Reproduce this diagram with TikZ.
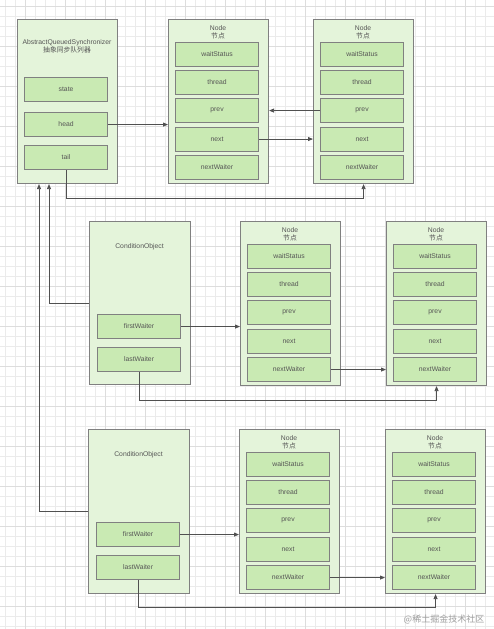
\documentclass[tikz,border=0pt]{standalone}
\usepackage{fontspec}
\setmainfont{Liberation Sans}
\newfontfamily\cjkfont{Noto Sans CJK SC}
\usetikzlibrary{arrows.meta}
\definecolor{outerfill}{HTML}{E4F4DA}
\definecolor{innerfill}{HTML}{C9EAB3}
\definecolor{boxline}{HTML}{808080}
\definecolor{txt}{HTML}{555555}
\definecolor{arrline}{HTML}{505050}
\definecolor{gridminor}{HTML}{EBEBEB}
\definecolor{gridmajor}{HTML}{DDDDDD}
\tikzset{
  outerbox/.style={draw=boxline, line width=1.1pt, fill=outerfill, anchor=north west, inner sep=0pt, minimum width=100pt},
  innerbox/.style={draw=boxline, line width=1.1pt, fill=innerfill, anchor=north west, inner sep=0pt, minimum width=83pt, minimum height=24pt, text=txt, font=\fontsize{6.8}{7.5}\selectfont},
  titletext/.style={text=txt, font=\fontsize{6.8}{8}\selectfont, align=center, inner sep=0pt},
  arr/.style={draw=arrline, line width=0.8pt, -{Triangle[length=5pt,width=4pt]}},
}
\newcommand{\nodecol}[3]{%
  \begin{scope}[shift={(#2,#3)}]
    \node[outerbox, minimum height=164pt] (#1) at (0,0) {};
    \node[titletext] (#1-title) at (50,13.5) {Node\\{\cjkfont 节点}};
    \node[innerbox] (#1-ws) at (7,23) {waitStatus};
    \node[innerbox] (#1-th) at (7,51) {thread};
    \node[innerbox] (#1-pv) at (7,79) {prev};
    \node[innerbox] (#1-nx) at (7,107.5) {next};
    \node[innerbox] (#1-nw) at (7,136) {nextWaiter};
  \end{scope}}
\newcommand{\condcol}[4]{%
  \begin{scope}[shift={(#2,#3)}]
    \node[outerbox, minimum width=101pt, minimum height=#4] (#1) at (0,0) {};
    \node[titletext] (#1-title) at (50.5,26) {ConditionObject};
    \node[innerbox] (#1-fw) at (8,93) {firstWaiter};
    \node[innerbox] (#1-lw) at (8,125.5) {lastWaiter};
  \end{scope}}
\begin{document}
\begin{tikzpicture}[x=1pt,y=-1pt]
  \useasboundingbox (0,0) rectangle (494,629);
  \fill[white] (0,0) rectangle (494,629);
  % grid
  \foreach \gx in {5,15,...,494} \draw[gridminor, line width=0.6pt] (\gx,0) -- (\gx,629);
  \foreach \gy in {6,16,...,629} \draw[gridminor, line width=0.6pt] (0,\gy) -- (494,\gy);
  \foreach \gx in {25,65,...,494} \draw[gridmajor, line width=0.8pt] (\gx,0) -- (\gx,629);
  \foreach \gy in {6,46,...,629} \draw[gridmajor, line width=0.8pt] (0,\gy) -- (494,\gy);

  % AQS
  \node[outerbox, minimum height=164pt] (aqs) at (17,19) {};
  \node[titletext] (aqs-title) at (67,46) {AbstractQueuedSynchronizer\\{\cjkfont 抽象同步队列器}};
  \node[innerbox] (aqs-state) at (24,77) {state};
  \node[innerbox] (aqs-head) at (24,112) {head};
  \node[innerbox] (aqs-tail) at (24,145) {tail};

  \nodecol{n1}{168}{19}
  \nodecol{n2}{313}{19}
  \condcol{c1}{89}{221}{163pt}
  \nodecol{n3}{240}{221}
  \nodecol{n4}{386}{221}
  \condcol{c2}{88}{429}{164pt}
  \nodecol{n5}{239}{429}
  \nodecol{n6}{385}{429}

  % top group connectors
  \draw[arr] (aqs-head.east) -- (aqs-head.east -| n1.west);
  \draw[arr] (n2-pv.west) -- (n2-pv.west -| n1.east);
  \draw[arr] (n1-nx.east) -- (n1-nx.east -| n2.west);
  \draw[arr] (aqs-tail.south) -- ++(0,28) -| (n2.south);

  % conditions to AQS
  \draw[arr] (c1.west) -| ([xshift=32pt]aqs.south west);
  \draw[arr] (c2.west) -| ([xshift=22pt]aqs.south west);

  % condition 1
  \draw[arr] (c1-fw.east) -- (c1-fw.east -| n3.west);
  \draw[arr] (n3-nw.east) -- (n3-nw.east -| n4.west);
  \draw[arr] (c1-lw.south) -- ++(0,29) -| (n4.south);

  % condition 2
  \draw[arr] (c2-fw.east) -- (c2-fw.east -| n5.west);
  \draw[arr] (n5-nw.east) -- (n5-nw.east -| n6.west);
  \draw[arr] (c2-lw.south) -- ++(0,28) -| (n6.south);

  % watermark
  \node[text=gray!75, font=\cjkfont\fontsize{9}{10}\selectfont, inner sep=0pt] (wm) at (444,619) {@稀土掘金技术社区};
\end{tikzpicture}
\end{document}
